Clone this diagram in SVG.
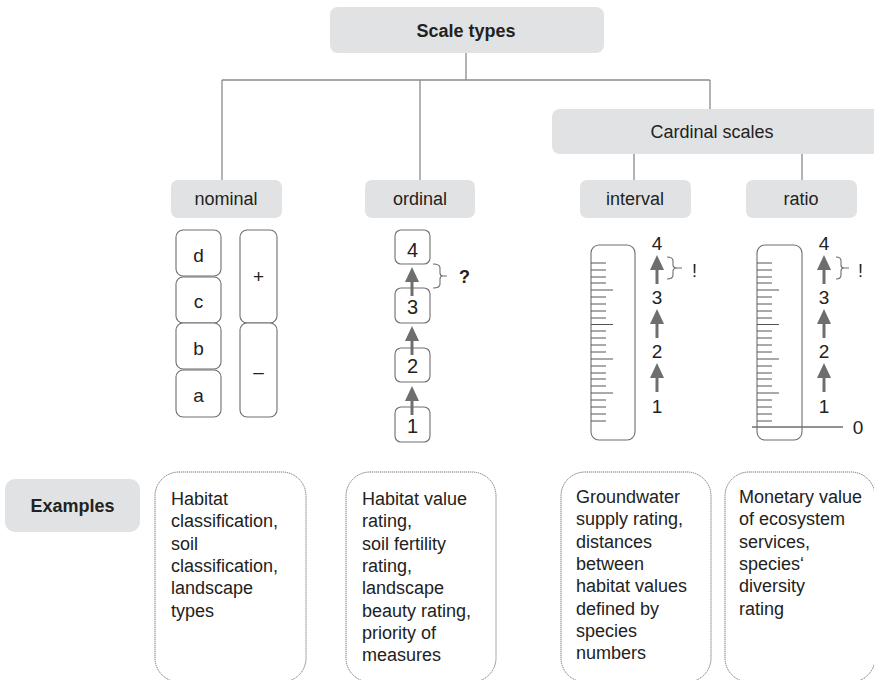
<svg xmlns="http://www.w3.org/2000/svg" width="874" height="680" viewBox="0 0 874 680">
  <style>
    .t { font-family: "Liberation Sans", Arial, sans-serif; fill: #222; }
    .lbl { font-size: 18px; text-anchor: middle; }
    .b { font-weight: bold; }
    .head { fill: #e1e2e4; }
    .cell { fill: #fff; stroke: #6e6e6e; stroke-width: 1.1; }
    .ex { fill: #fff; stroke: #6e6e6e; stroke-width: 1; stroke-dasharray: 1.2 0.8; }
    .conn { stroke: #8a8a8a; stroke-width: 1.3; fill: none; }
    .tick { stroke: #555; stroke-width: 1; }
    .arr { fill: #6e6e6e; }
    .shaft { stroke: #6e6e6e; stroke-width: 3; }
    .brace { stroke: #6e6e6e; stroke-width: 1.1; fill: none; }
    .ext { font-size: 18px; }
  </style>
  <defs>
    <!-- short and long ruler ticks, 24 ticks, every fifth one long -->
    <g id="ticksShort">
      <path class="tick" d="M0,263H15M0,270H15M0,277H15M0,283H15M0,297H15M0,304H15M0,311H15M0,318H15M0,331H15M0,338H15M0,345H15M0,352H15M0,366H15M0,373H15M0,379H15M0,386H15M0,400H15M0,407H15M0,414H15M0,421H15"/>
    </g>
    <g id="ticksLong">
      <path class="tick" d="M0,290H22M0,324.5H22M0,359H22M0,393H22"/>
    </g>
    <!-- upward arrow, tip at origin -->
    <g id="upArrow">
      <path class="arr" d="M0,0 L7,15 L-7,15 Z"/>
      <line class="shaft" x1="0" y1="14" x2="0" y2="29"/>
    </g>
  </defs>

  <!-- tree connectors -->
  <g id="connectors">
    <path class="conn" d="M466,53 V80 M222,80 H710 M222,80 V180 M420,80 V180 M710,80 V109 M634,154 V180 M802,154 V180"/>
  </g>

  <g id="scale-types">
    <rect class="head" x="330" y="7" width="274" height="46" rx="8"/>
    <text class="t lbl b" x="466" y="37">Scale types</text>
  </g>

  <g id="cardinal-scales">
    <rect class="head" x="552" y="109" width="330" height="45" rx="8"/>
    <text class="t lbl" x="712" y="138">Cardinal scales</text>
  </g>

  <g id="nominal">
    <rect class="head" x="171" y="180" width="111" height="38" rx="7"/>
    <text class="t lbl" x="226" y="205">nominal</text>
  </g>
  <g id="ordinal">
    <rect class="head" x="365" y="180" width="110" height="38" rx="7"/>
    <text class="t lbl" x="420" y="205">ordinal</text>
  </g>
  <g id="interval">
    <rect class="head" x="580" y="180" width="111" height="38" rx="7"/>
    <text class="t lbl" x="635" y="205">interval</text>
  </g>
  <g id="ratio">
    <rect class="head" x="746" y="180" width="111" height="38" rx="7"/>
    <text class="t lbl" x="801" y="205">ratio</text>
  </g>

  <!-- nominal categories -->
  <g id="nominal-categories">
    <rect class="cell" x="176" y="230" width="45" height="46" rx="7"/>
    <rect class="cell" x="176" y="277" width="45" height="46" rx="7"/>
    <rect class="cell" x="176" y="323" width="45" height="46" rx="7"/>
    <rect class="cell" x="176" y="370" width="45" height="47" rx="7"/>
    <text class="t lbl" style="font-size:19px" x="198.5" y="262">d</text>
    <text class="t lbl" style="font-size:19px" x="198.5" y="308">c</text>
    <text class="t lbl" style="font-size:19px" x="198.5" y="355">b</text>
    <text class="t lbl" style="font-size:19px" x="198.5" y="402">a</text>
    <rect class="cell" x="240" y="230" width="37" height="93" rx="7"/>
    <rect class="cell" x="240" y="323" width="37" height="94" rx="7"/>
    <text class="t lbl" style="font-size:19px" x="258.5" y="283">+</text>
    <text class="t lbl" style="font-size:19px" x="258.5" y="378">–</text>
  </g>

  <!-- ordinal ranks -->
  <g id="ordinal-ranks">
    <rect class="cell" x="395" y="230" width="35" height="34" rx="6"/>
    <rect class="cell" x="395" y="288" width="35" height="35" rx="6"/>
    <rect class="cell" x="395" y="348" width="35" height="34" rx="6"/>
    <rect class="cell" x="395" y="407" width="35" height="35" rx="6"/>
    <text class="t lbl" style="font-size:20px" x="412.5" y="257">4</text>
    <text class="t lbl" style="font-size:20px" x="412.5" y="314">3</text>
    <text class="t lbl" style="font-size:20px" x="412.5" y="373">2</text>
    <text class="t lbl" style="font-size:20px" x="412.5" y="433">1</text>
    <use href="#upArrow" x="412" y="267"/>
    <use href="#upArrow" x="412" y="326"/>
    <use href="#upArrow" x="412" y="386"/>
    <path class="brace" d="M433,264 Q440,264 440,268 V273 Q440,276 443,276 H447 M443,276 Q440,276 440,279 V284 Q440,288 433,288"/>
    <text class="t b" style="font-size:18px" x="459" y="283">?</text>
  </g>

  <!-- interval ruler -->
  <g id="interval-ruler">
    <rect class="cell" x="591" y="245" width="44" height="195" rx="8"/>
    <use href="#ticksShort" x="591"/>
    <use href="#ticksLong" x="591"/>
    <text class="t lbl" style="font-size:19px" x="657" y="250">4</text>
    <text class="t lbl" style="font-size:19px" x="657" y="304">3</text>
    <text class="t lbl" style="font-size:19px" x="657" y="358">2</text>
    <text class="t lbl" style="font-size:19px" x="657" y="413">1</text>
    <use href="#upArrow" x="657" y="255"/>
    <use href="#upArrow" x="657" y="309"/>
    <use href="#upArrow" x="657" y="363"/>
    <path class="brace" d="M667,257 Q673,257 673,261 V265 Q673,268 677,268 H682 M677,268 Q673,268 673,271 V275 Q673,279 667,279"/>
    <text class="t" style="font-size:18px" x="692" y="277">!</text>
  </g>

  <!-- ratio ruler with zero point -->
  <g id="ratio-ruler">
    <rect class="cell" x="757" y="245" width="45" height="195" rx="8"/>
    <use href="#ticksShort" x="757"/>
    <use href="#ticksLong" x="757"/>
    <line x1="752" y1="427" x2="843" y2="427" stroke="#6e6e6e" stroke-width="1.5"/>
    <text class="t lbl" style="font-size:19px" x="824" y="250">4</text>
    <text class="t lbl" style="font-size:19px" x="824" y="304">3</text>
    <text class="t lbl" style="font-size:19px" x="824" y="358">2</text>
    <text class="t lbl" style="font-size:19px" x="824" y="413">1</text>
    <text class="t lbl" style="font-size:19px" x="858" y="434">0</text>
    <use href="#upArrow" x="824" y="255"/>
    <use href="#upArrow" x="824" y="309"/>
    <use href="#upArrow" x="824" y="363"/>
    <path class="brace" d="M836,257 Q841,257 841,261 V265 Q841,268 844,268 H849 M844,268 Q841,268 841,271 V275 Q841,279 836,279"/>
    <text class="t" style="font-size:18px" x="858" y="277">!</text>
  </g>

  <!-- examples row -->
  <g id="examples">
    <rect class="head" x="5" y="479" width="135" height="53" rx="10"/>
    <text class="t lbl b" x="72.5" y="512">Examples</text>
  </g>

  <g id="examples-nominal">
    <rect class="ex" x="155" y="472" width="151" height="210" rx="24"/>
    <text class="t ext">
      <tspan x="171" y="505">Habitat</tspan>
      <tspan x="171" y="527.3">classification,</tspan>
      <tspan x="171" y="549.6">soil</tspan>
      <tspan x="171" y="571.9">classification,</tspan>
      <tspan x="171" y="594.2">landscape</tspan>
      <tspan x="171" y="616.5">types</tspan>
    </text>
  </g>

  <g id="examples-ordinal">
    <rect class="ex" x="346" y="472" width="150" height="210" rx="24"/>
    <text class="t ext">
      <tspan x="362" y="505">Habitat value</tspan>
      <tspan x="362" y="527.3">rating,</tspan>
      <tspan x="362" y="549.6">soil fertility</tspan>
      <tspan x="362" y="571.9">rating,</tspan>
      <tspan x="362" y="594.2">landscape</tspan>
      <tspan x="362" y="616.5">beauty rating,</tspan>
      <tspan x="362" y="638.8">priority of</tspan>
      <tspan x="362" y="661.1">measures</tspan>
    </text>
  </g>

  <g id="examples-interval">
    <rect class="ex" x="561" y="472" width="150" height="210" rx="24"/>
    <text class="t ext">
      <tspan x="576" y="503">Groundwater</tspan>
      <tspan x="576" y="525.3">supply rating,</tspan>
      <tspan x="576" y="547.6">distances</tspan>
      <tspan x="576" y="569.9">between</tspan>
      <tspan x="576" y="592.2">habitat values</tspan>
      <tspan x="576" y="614.5">defined by</tspan>
      <tspan x="576" y="636.8">species</tspan>
      <tspan x="576" y="659.1">numbers</tspan>
    </text>
  </g>

  <g id="examples-ratio">
    <rect class="ex" x="725" y="472" width="150" height="210" rx="24"/>
    <text class="t ext">
      <tspan x="739" y="503">Monetary value</tspan>
      <tspan x="739" y="525.3">of ecosystem</tspan>
      <tspan x="739" y="547.6">services,</tspan>
      <tspan x="739" y="569.9">species‘</tspan>
      <tspan x="739" y="592.2">diversity</tspan>
      <tspan x="739" y="614.5">rating</tspan>
    </text>
  </g>
</svg>
